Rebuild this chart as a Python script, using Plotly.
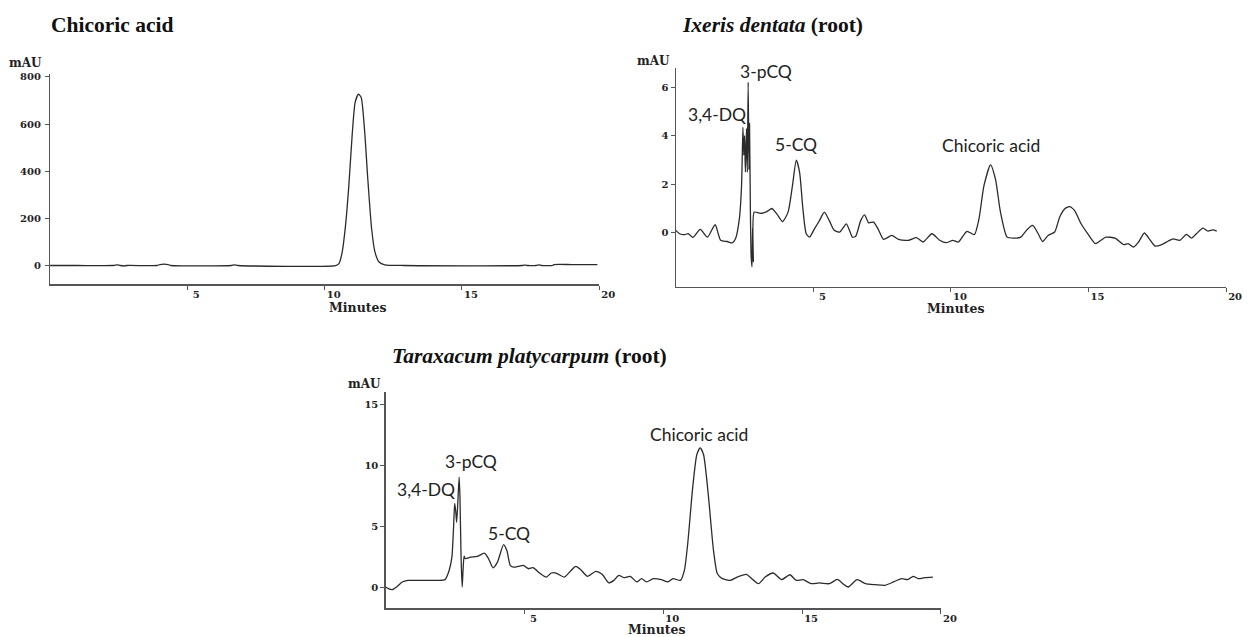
import plotly.graph_objects as go

# ---------------- data ----------------
# Chicoric acid standard
std_time = [0.0, 1.0, 2.3, 2.45, 2.55, 2.7, 2.8, 3.9, 4.0, 4.3, 4.4, 6.6, 6.7, 6.85,
            10.4, 10.52, 10.64, 10.76, 10.88, 11.0, 11.11, 11.23, 11.33, 11.45, 11.57,
            11.71, 11.83, 11.98, 12.19, 12.9, 17.2, 17.3, 17.4, 17.7, 17.8, 17.9,
            18.3, 18.35, 19.0, 19.93]
std_mau = [0, 0, 0, 3, 0, -2, 0, 0, 4, 4, 0, 0, 3, 0,
           0, 8, 58, 170, 339, 551, 692, 727, 713, 579, 368,
           156, 58, 15, 3, 0, 0, 2, 0, 0, 3, 0,
           0, 4, 4, 4]

# Ixeris dentata (root)
ix_time = [0.0, 0.14, 0.32, 0.45, 0.62, 0.89, 1.15, 1.43, 1.63, 1.87, 2.05, 2.17,
           2.31, 2.39, 2.44, 2.47, 2.50, 2.53, 2.57, 2.60, 2.63, 2.66, 2.68, 2.71,
           2.74, 2.77, 2.79, 2.82, 2.85, 3.07, 3.31, 3.49, 3.67, 3.88, 4.08, 4.24,
           4.38, 4.50, 4.62, 4.74, 4.86, 5.04, 5.22, 5.40, 5.58, 5.76, 5.96, 6.20,
           6.42, 6.54, 6.72, 6.86, 7.01, 7.19, 7.35, 7.55, 7.85, 8.09, 8.45, 8.75,
           8.99, 9.31, 9.59, 9.83, 10.07, 10.27, 10.58, 10.85, 11.02, 11.20, 11.44,
           11.62, 11.80, 12.04, 12.28, 12.54, 12.76, 12.97, 13.17, 13.33, 13.53,
           13.77, 13.95, 14.13, 14.31, 14.49, 14.73, 14.97, 15.25, 15.45, 15.63,
           15.96, 16.29, 16.44, 16.64, 16.82, 17.03, 17.21, 17.42, 17.66, 17.90,
           18.08, 18.32, 18.56, 18.74, 18.92, 19.16, 19.34, 19.52, 19.66]
ix_mau = [0.10, -0.04, -0.08, -0.04, -0.19, 0.14, -0.18, 0.33, -0.31, -0.36, -0.42, -0.25,
          0.57, 1.94, 4.35, 3.20, 4.00, 2.50, 4.30, 2.50, 6.20, 2.60, 4.50, 1.00,
          -1.00, -1.40, 0.20, -1.20, 0.85, 0.80, 0.87, 1.00, 0.78, 0.46, 0.85, 1.94,
          2.99, 2.49, 0.98, -0.04, -0.18, 0.16, 0.50, 0.85, 0.50, 0.10, 0.03, 0.37,
          -0.18, -0.14, 0.50, 0.74, 0.41, 0.44, 0.16, -0.27, -0.11, -0.27, -0.31, -0.20,
          -0.38, -0.04, -0.31, -0.41, -0.31, -0.38, 0.06, -0.08, 0.58, 1.94, 2.80,
          2.20, 0.85, -0.18, -0.22, -0.18, 0.12, 0.30, -0.04, -0.36, -0.11,
          0.03, 0.64, 0.98, 1.08, 0.92, 0.37, -0.04, -0.45, -0.31, -0.18,
          -0.22, -0.49, -0.45, -0.59, -0.38, -0.01, -0.25, -0.55, -0.49, -0.34,
          -0.25, -0.31, -0.07, -0.22, -0.04, 0.19, 0.07, 0.12, 0.07]

# Taraxacum platycarpum (root)
tp_time = [0.0, 0.10, 0.24, 0.40, 0.60, 0.81, 1.17, 1.52, 1.88, 2.14, 2.29, 2.39,
           2.45, 2.49, 2.53, 2.56, 2.60, 2.65, 2.68, 2.72, 2.76, 2.79, 2.83, 2.87,
           3.06, 3.30, 3.56, 3.71, 3.87, 4.03, 4.25, 4.37, 4.49, 4.60, 4.78, 4.96,
           5.14, 5.31, 5.55, 5.79, 5.97, 6.14, 6.44, 6.68, 6.85, 7.03, 7.27, 7.57,
           7.80, 8.04, 8.22, 8.40, 8.58, 8.81, 9.05, 9.22, 9.40, 9.64, 9.93, 10.17,
           10.35, 10.62, 10.76, 10.88, 11.06, 11.21, 11.33, 11.45, 11.62, 11.81,
           11.95, 12.13, 12.42, 12.66, 12.99, 13.19, 13.43, 13.67, 13.96, 14.26,
           14.56, 14.79, 15.03, 15.33, 15.62, 15.98, 16.27, 16.47, 16.66, 16.98,
           17.28, 17.64, 17.99, 18.29, 18.58, 18.80, 19.00, 19.18, 19.42, 19.71]
tp_mau = [0.08, -0.05, -0.14, 0.08, 0.49, 0.62, 0.62, 0.62, 0.62, 0.68, 1.43, 2.51,
          4.95, 6.89, 6.20, 5.35, 6.84, 9.05, 7.40, 2.50, 0.08, 1.40, 2.60, 2.40,
          2.51, 2.57, 2.84, 2.38, 1.65, 2.11, 3.54, 3.05, 1.84, 1.70, 1.76, 1.84,
          1.57, 1.65, 1.22, 0.89, 1.22, 1.22, 0.89, 1.43, 1.76, 1.49, 0.95, 1.35,
          1.11, 0.41, 0.62, 1.03, 0.84, 0.95, 0.49, 0.76, 0.49, 0.76, 0.68, 0.49,
          0.76, 0.62, 1.43, 3.59, 8.19, 10.89, 11.43, 10.89, 7.65, 3.05,
          1.16, 0.76, 0.62, 0.89, 1.11, 0.76, 0.35, 0.89, 1.22, 0.68,
          1.08, 0.62, 0.68, 0.35, 0.41, 0.35, 0.70, 0.35, 0.08, 0.68,
          0.35, 0.27, 0.22, 0.49, 0.76, 0.68, 0.95, 0.76, 0.84, 0.89]

x_tickvals = [5, 10, 15, 20]
x_ticktext = ["5", "10", "15", "20"]
std_ytick = [0, 200, 400, 600, 800]
ix_ytick = [0, 2, 4, 6]
tp_ytick = [0, 5, 10, 15]

titles = ["Chicoric acid", "<i>Ixeris dentata</i> (root)", "<i>Taraxacum platycarpum</i> (root)"]

ix_peaks = [("3,4-DQ", 1.51, 4.88), ("3-pCQ", 3.27, 6.66), ("5-CQ", 4.38, 3.62),
            ("Chicoric acid", 11.44, 3.61)]
tp_peaks = [("3,4-DQ", 1.46, 8.0), ("3-pCQ", 3.09, 10.28), ("5-CQ", 4.45, 4.46),
            ("Chicoric acid", 11.28, 12.52)]

# ---------------- figure ----------------
W, H = 1257, 637
def px(x):
    return x / W
def py(y):
    return 1 - y / H

LINE = dict(color="#2b2b2b", width=1.3, shape="spline", smoothing=0.6)
fig = go.Figure()
fig.add_trace(go.Scatter(x=std_time, y=std_mau, mode="lines", line=LINE, xaxis="x", yaxis="y"))
fig.add_trace(go.Scatter(x=ix_time, y=ix_mau, mode="lines", line=LINE, xaxis="x2", yaxis="y2"))
fig.add_trace(go.Scatter(x=tp_time, y=tp_mau, mode="lines", line=LINE, xaxis="x3", yaxis="y3"))

tickfont = dict(family="DejaVu Serif", size=10, color="#222", weight="bold")
common = dict(showline=True, linecolor="#555", linewidth=1.2, ticks="outside",
              ticklen=4, tickcolor="#555", tickwidth=1, showgrid=False,
              zeroline=False, tickfont=tickfont, fixedrange=True)

def xax(domain, anchor):
    return dict(common, domain=domain, anchor=anchor, range=[0, 20],
                tickvals=x_tickvals, ticktext=x_ticktext, ticklabelshift=9,
                ticklabelstandoff=-4)

def yax(domain, anchor, rng, tv, standoff):
    return dict(common, domain=domain, anchor=anchor, range=rng, tickvals=tv,
                ticktext=[str(v) for v in tv], ticklabelstandoff=standoff)

fig.update_layout(
    width=W, height=H, margin=dict(l=0, r=0, t=0, b=0),
    paper_bgcolor="white", plot_bgcolor="white", showlegend=False,
    hovermode=False,
    xaxis=xax([px(50.7), px(607)], "y"),
    yaxis=yax([py(282.7), py(71.4)], "x", [-80, 812], std_ytick, 2),
    xaxis2=xax([px(684.5), px(1241.9)], "y2"),
    yaxis2=yax([py(285), py(65)], "x2", [-2.22, 6.8], ix_ytick, 0),
    xaxis3=xax([px(390.5), px(953.1)], "y3"),
    yaxis3=yax([py(608.3), py(390.7)], "x3", [-1.67, 16], tp_ytick, 0),
)

annotations = []
title_font = dict(family="Liberation Serif", size=21.5, color="#111", weight="bold")
for txt, (x, y) in zip(titles, [(50, 21.7), (689, 21.7), (395, 355)]):
    annotations.append(dict(text=txt, x=px(x), y=py(y), xref="paper", yref="paper",
                            xanchor="left", yanchor="middle", showarrow=False, font=title_font))

lab_font = dict(family="DejaVu Serif", size=12, color="#222", weight="bold")
for (x, y) in [(26, 60), (661.7, 58.3), (369, 383.3)]:
    annotations.append(dict(text="mAU", x=px(x), y=py(y), xref="paper", yref="paper",
                            xanchor="center", yanchor="middle", showarrow=False, font=lab_font))
min_font = dict(family="DejaVu Serif", size=12.5, color="#222", weight="bold")
for (x, y) in [(363, 306), (968.7, 306.7), (665.5, 629.5)]:
    annotations.append(dict(text="Minutes", x=px(x), y=py(y), xref="paper", yref="paper",
                            xanchor="center", yanchor="middle", showarrow=False, font=min_font))

peak_font = dict(family="Lato", size=17.5, color="#222")
for txt, t, v in ix_peaks:
    annotations.append(dict(text=txt, x=t, y=v, xref="x2", yref="y2", xanchor="center",
                            yanchor="middle", showarrow=False, font=peak_font))
for txt, t, v in tp_peaks:
    annotations.append(dict(text=txt, x=t, y=v, xref="x3", yref="y3", xanchor="center",
                            yanchor="middle", showarrow=False, font=peak_font))

fig.update_layout(annotations=annotations)
fig.write_html(
    "out.html",
    config={"displayModeBar": False, "staticPlot": True},
    post_script="document.body.style.margin='0';document.body.style.overflow='hidden';",
)
